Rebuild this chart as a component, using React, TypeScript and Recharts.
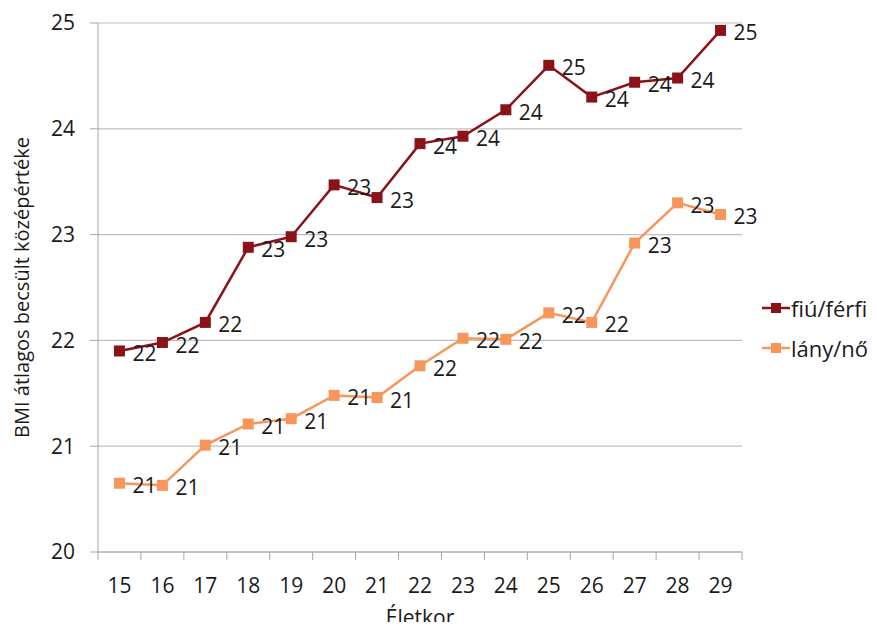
import { LineChart, Line, XAxis, YAxis, CartesianGrid, Legend, LabelList } from "recharts"

const ages = [15, 16, 17, 18, 19, 20, 21, 22, 23, 24, 25, 26, 27, 28, 29]
const boys = [21.9, 21.98, 22.17, 22.88, 22.98, 23.47, 23.35, 23.86, 23.93, 24.18, 24.6, 24.3, 24.44, 24.48, 24.93]
const girls = [20.65, 20.63, 21.01, 21.21, 21.26, 21.48, 21.46, 21.76, 22.02, 22.01, 22.26, 22.17, 22.92, 23.3, 23.19]
const yTicks = [20, 21, 22, 23, 24, 25]
// label ticks at the ages, tick marks between them
const xTicks = [14.5, ...ages.flatMap((a) => [a, a + 0.5])]

const data = ages.map((age, i) => ({ age, boys: boys[i], girls: girls[i] }))

const FONT = "'Open Sans', sans-serif"
const TEXT = "#1a1a1a"
const BOY = "#8b1219"
const GIRL = "#f7965a"

const series = [
  { key: "boys", name: "fiú/férfi", color: BOY },
  { key: "girls", name: "lány/nő", color: GIRL },
]

function Square(props: any) {
  const { cx, cy, fill } = props
  if (cx == null || cy == null) return null
  return <rect x={cx - 5.5} y={cy - 5.5} width={11} height={11} fill={fill} />
}

function ValueLabel(props: any) {
  const { x, y, value } = props
  return (
    <text x={x + 13} y={y + 10} fontSize={21} fontFamily={FONT} fill={TEXT}>
      {Math.round(value)}
    </text>
  )
}

function XTick(props: any) {
  const { x, y, payload } = props
  const v = payload.value
  if (!Number.isInteger(v)) {
    return <line x1={x} x2={x} y1={y} y2={y + 8} stroke="#a6a6a6" strokeWidth={1} />
  }
  return (
    <text x={x} y={y + 41} textAnchor="middle" fontSize={21} fontFamily={FONT} fill={TEXT}>
      {v}
    </text>
  )
}

function LegendBox() {
  return (
    <div style={{ fontFamily: FONT, fontSize: 22, color: TEXT }}>
      {series.map((s) => (
        <div key={s.key} style={{ display: "flex", alignItems: "center", height: 40 }}>
          <svg width={28} height={12} style={{ marginRight: 1 }}>
            <line x1={0} x2={28} y1={6} y2={6} stroke={s.color} strokeWidth={2.5} />
            <rect x={9} y={1} width={10} height={10} fill={s.color} />
          </svg>
          <span>{s.name}</span>
        </div>
      ))}
    </div>
  )
}

export default function App() {
  return (
    <div style={{ margin: -8, width: 877, height: 630, background: "#fff", position: "relative" }}>
      <LineChart width={877} height={630} data={data} margin={{ top: 23, right: 135, left: 0, bottom: 0 }}>
        <CartesianGrid vertical={false} stroke="#c0c0c0" strokeWidth={1.2} />
        <XAxis
          dataKey="age"
          type="number"
          domain={[14.5, 29.5]}
          ticks={xTicks}
          interval={0}
          height={78}
          tickSize={0}
          tickMargin={0}
          tickLine={false}
          axisLine={{ stroke: "#a6a6a6" }}
          tick={<XTick />}
          label={{ value: "Életkor", position: "insideBottom", offset: 5, fontSize: 21, fontFamily: FONT, fill: TEXT }}
        />
        <YAxis
          domain={[20, 25]}
          ticks={yTicks}
          width={98}
          tickSize={8}
          tickMargin={15}
          tickLine={{ stroke: "#a6a6a6" }}
          axisLine={{ stroke: "#a6a6a6" }}
          tick={{ fontSize: 21, fontFamily: FONT, fill: TEXT }}
          label={{
            value: "BMI átlagos becsült középértéke",
            angle: -90,
            position: "insideLeft",
            offset: 22,
            style: { textAnchor: "middle" },
            fontSize: 20,
            fontFamily: FONT,
            fill: TEXT,
          }}
        />
        <Legend
          layout="vertical"
          align="center"
          verticalAlign="middle"
          content={<LegendBox />}
          wrapperStyle={{ left: 762, top: 288, width: 115 }}
        />
        {series.map((s) => (
          <Line
            key={s.key}
            dataKey={s.key}
            name={s.name}
            type="linear"
            stroke={s.color}
            strokeWidth={2.5}
            dot={<Square fill={s.color} />}
            activeDot={false}
            isAnimationActive={false}
          >
            <LabelList dataKey={s.key} content={<ValueLabel />} />
          </Line>
        ))}
      </LineChart>
    </div>
  )
}
